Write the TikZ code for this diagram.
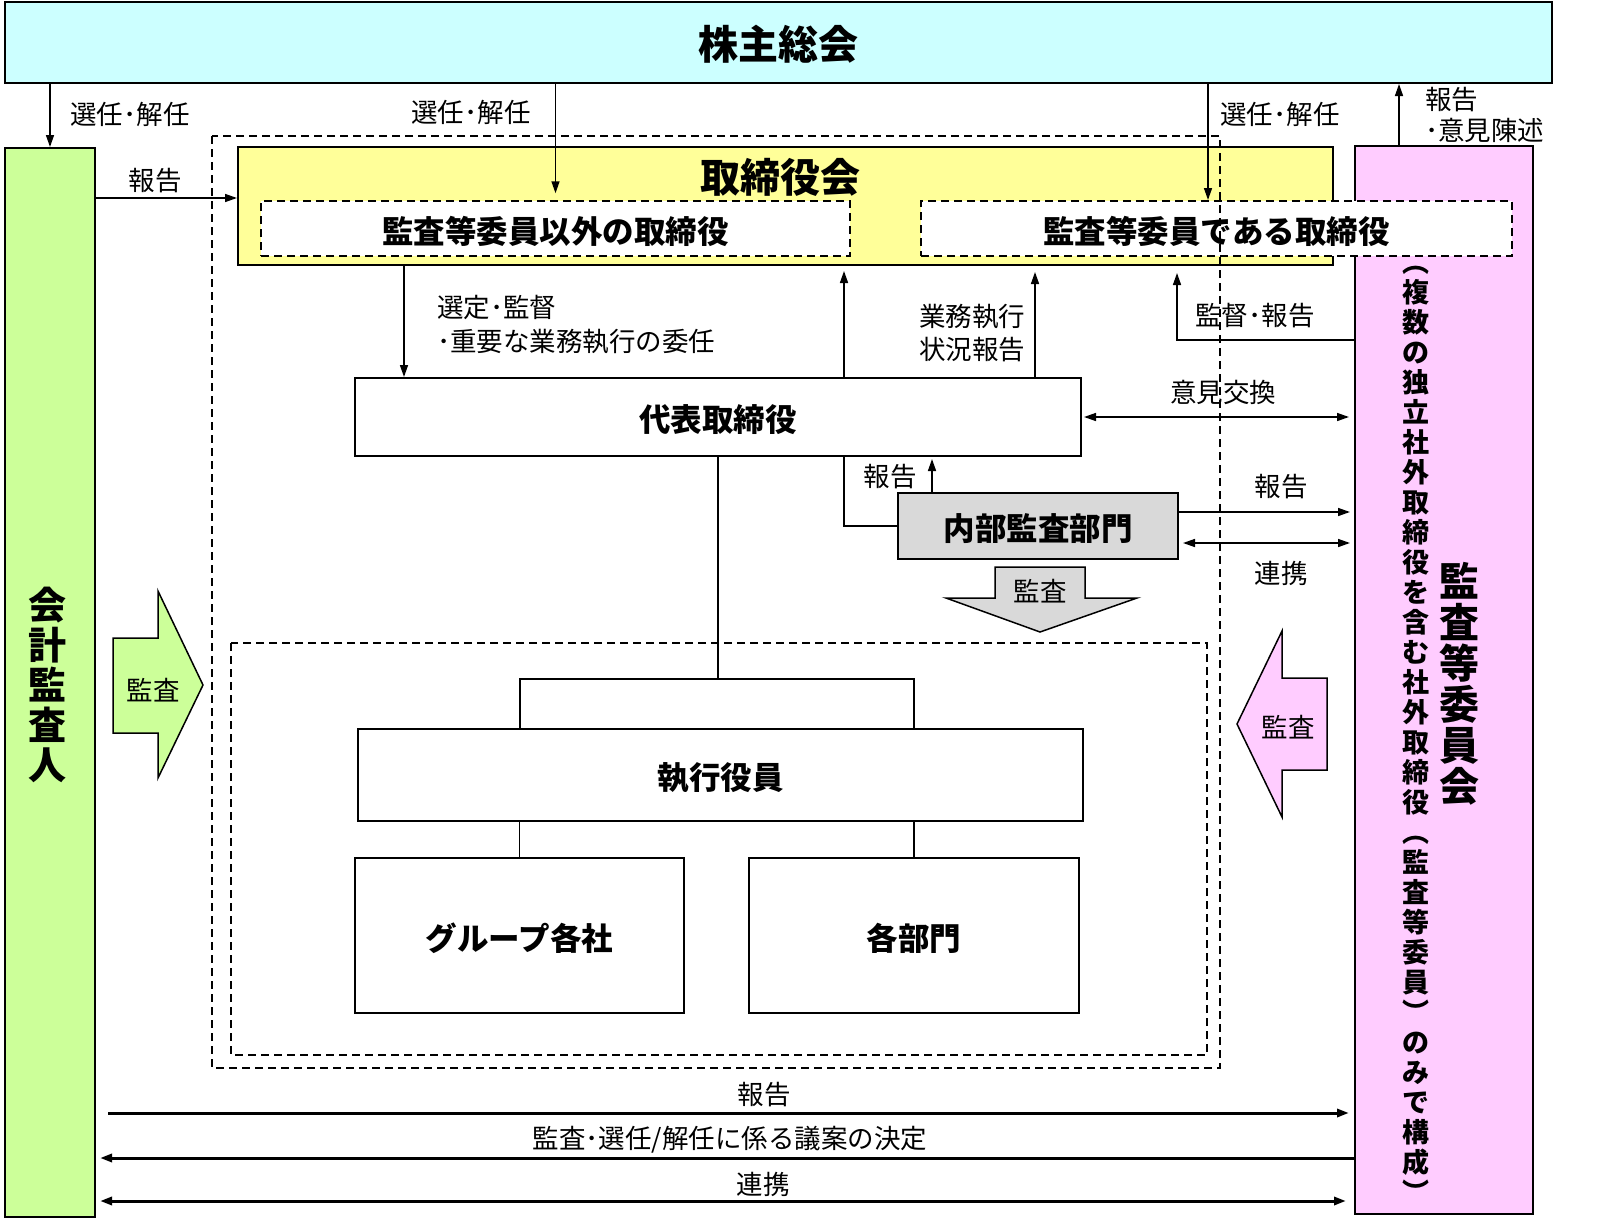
\documentclass[tikz,border=0pt]{standalone}
\usepackage{fontspec}
\setmainfont{Noto Sans CJK JP}
\usetikzlibrary{arrows.meta,positioning}

\definecolor{kabu}{HTML}{CCFFFF}
\definecolor{kaikei}{HTML}{CCFF99}
\definecolor{iinkai}{HTML}{FFCCFF}
\definecolor{torishimari}{HTML}{FFFF99}
\definecolor{naibu}{HTML}{D9D9D9}

\tikzset{
  box/.style={draw, line width=2pt, inner sep=0pt},
  dashbox/.style={draw, line width=1.5pt, dash pattern=on 8pt off 5pt},
  big/.style={font=\bfseries\fontsize{31.5}{33}\selectfont, text height=29pt, text depth=0pt},
  lbl/.style={inner sep=0pt, font=\fontsize{26.5}{32}\selectfont},
  arr/.style={line width=1.5pt, -{Triangle[length=12pt,width=8pt]}},
  dbl/.style={line width=1.5pt, {Triangle[length=12pt,width=8pt]}-{Triangle[length=12pt,width=8pt]}},
}

\begin{document}
\begin{tikzpicture}[x=1pt, y=-1pt]
  \useasboundingbox (0,0) rectangle (1600,1223);

  % top, side columns
  \node[box, fill=kabu, minimum width=1547pt, minimum height=81pt, text height=34pt, text depth=0pt,
        font=\bfseries\fontsize{40}{40}\selectfont] (sh) at (778.5,42.5) {株主総会};
  \node[box, fill=kaikei, minimum width=90pt, minimum height=1069pt] (ka) at (50,682.5) {};
  \node[box, fill=iinkai, minimum width=178pt, minimum height=1068pt] (ac) at (1444,680) {};
  \node[inner sep=0pt, align=center, font=\bfseries\fontsize{38}{40}\selectfont] (kat) at (47,685)
        {会\\計\\監\\査\\人};
  \node[inner sep=0pt, align=center, font=\bfseries\fontsize{40}{41}\selectfont] (act) at (1459,684)
        {監\\査\\等\\委\\員\\会};
  \node[inner sep=0pt, align=center, font=\bfseries\fontsize{27}{30}\selectfont] (acsub) at (1416,734)
        {︵\\複\\数\\の\\独\\立\\社\\外\\取\\締\\役\\を\\含\\む\\社\\外\\取\\締\\役\\︵\\監\\査\\等\\委\\員\\︶\\の\\み\\で\\構\\成\\︶};

  % board
  \node[box, fill=torishimari, minimum width=1095pt, minimum height=118pt] (bd) at (785.5,206) {};
  \node[inner sep=0pt, font=\bfseries\fontsize{40}{40}\selectfont] (bdt) at (780,177) {取締役会};
  \node[dashbox, fill=white, big, minimum width=589pt, minimum height=55pt] (nb) at (555.5,228.5) {監査等委員以外の取締役};
  \node[dashbox, fill=white, big, minimum width=591pt, minimum height=55pt] (ab) at (1216.5,228.5) {監査等委員である取締役};

  % execution side
  \node[box, fill=white, big, minimum width=726pt, minimum height=78pt] (rep) at (718,417) {代表取締役};
  \node[box, fill=naibu, big, minimum width=280pt, minimum height=66pt] (ia) at (1038,526) {内部監査部門};
  \node[box, fill=white, big, minimum width=725pt, minimum height=92pt] (ex) at (720.5,775) {執行役員};
  \node[box, fill=white, big, minimum width=329pt, minimum height=155pt] (gr) at (519.5,935.5) {グループ各社};
  \node[box, fill=white, big, minimum width=330pt, minimum height=155pt] (dp) at (914,935.5) {各部門};

  % block arrows
  \draw[line width=1.5pt, fill=naibu] (995,567) -- (1085,567) -- (1085,598) -- (1137,598)
        -- (1040,632) -- (946,598) -- (995,598) -- cycle;
  \draw[line width=1.5pt, fill=kaikei] (113,638) -- (158,638) -- (158,591) -- (203,685)
        -- (158,778) -- (158,733) -- (113,733) -- cycle;
  \draw[line width=1.5pt, fill=iinkai] (1327,678) -- (1282,678) -- (1282,631) -- (1237,724)
        -- (1282,817) -- (1282,770) -- (1327,770) -- cycle;
  \node[lbl] (kansa1) at (1040,591) {監査};
  \node[lbl] (kansa2) at (153,690) {監査};
  \node[lbl] (kansa3) at (1288,727) {監査};

  % connectors
  \draw[arr] (ka.north |- sh.south) -- (ka.north);
  \draw[arr, shorten >=7pt] (nb.north |- sh.south) -- (nb.north);
  \coordinate (selab) at (1208,200);
  \draw[arr] (selab |- sh.south) -- (selab);
  \draw[arr] (ac.north -| 1399,0) -- (sh.south -| 1399,0);
  \draw[arr] (ka.east |- 0,198) -- (bd.west |- 0,198);
  \draw[arr] (bd.south -| 404,0) -- (rep.north -| 404,0);
  \draw[arr, shorten >=5pt] (rep.north -| 844,0) -- (bd.south -| 844,0);
  \draw[arr, shorten >=6pt] (rep.north -| 1035,0) -- (bd.south -| 1035,0);
  \draw[arr, shorten >=7pt] (ac.west |- 0,340) -| (bd.south -| 1177,0);
  \draw[dbl, shorten <=2pt, shorten >=5pt] (rep.east) -- (rep.east -| ac.west);
  \draw[arr, shorten >=2pt] (ia.north -| 932,0) -- (rep.south -| 932,0);
  \draw[line width=1.5pt] (rep.south -| 844,0) |- (ia.west);
  \draw[arr, shorten >=4pt] (ia.east |- 0,512) -- (ac.west |- 0,512);
  \draw[dbl, shorten <=4pt, shorten >=4pt] (ia.east |- 0,543) -- (ac.west |- 0,543);

  \coordinate (fork) at (718,679);
  \draw[line width=1.5pt] (rep.south) -- (fork);
  \draw[line width=2pt] (gr.north |- ex.north) -- (gr.north |- fork) -- (dp.north |- fork) -- (dp.north |- ex.north);
  \draw[line width=1.5pt] (gr.north) -- (gr.north |- ex.south) (dp.north) -- (dp.north |- ex.south);

  \draw[arr, line width=3pt, shorten <=12pt, shorten >=5pt] (ka.east |- 0,1113) -- (ac.west |- 0,1113);
  \draw[arr, line width=3pt, shorten >=4pt] (ac.west |- 0,1158) -- (ka.east |- 0,1158);
  \draw[dbl, line width=3pt, shorten <=4pt, shorten >=8pt] (ka.east |- 0,1201) -- (ac.west |- 0,1201);

  % labels
  \node[lbl] (l1) at (130,114) {選任･解任};
  \node[lbl] (l2) at (471,112) {選任･解任};
  \node[lbl] (l3) at (1280,114) {選任･解任};
  \node[lbl, anchor=west, align=left, font=\fontsize{26.5}{31}\selectfont] (l4) at (1425,115) {報告\\･意見陳述};
  \node[lbl] (l5) at (155,181) {報告};
  \node[lbl, anchor=west, align=left, font=\fontsize{26.5}{34}\selectfont] (l6) at (437,325) {選定･監督\\･重要な業務執行の委任};
  \node[lbl, align=left, font=\fontsize{26.5}{33}\selectfont] (l7) at (972,333) {業務執行\\状況報告};
  \node[lbl] (l8) at (1255,316) {監督･報告};
  \node[lbl] (l9) at (1223,392) {意見交換};
  \node[lbl] (l10) at (890,477) {報告};
  \node[lbl] (l11) at (1281,487) {報告};
  \node[lbl] (l12) at (1281,573) {連携};
  \node[lbl] (l13) at (764,1095) {報告};
  \node[lbl] (l14) at (730,1140) {監査･選任/解任に係る議案の決定};
  \node[lbl] (l15) at (763,1184) {連携};

  % dashed frames
  \draw[dashbox] (212,136) rectangle (1220,1068);
  \draw[dashbox] (231,643) rectangle (1207,1055);
\end{tikzpicture}
\end{document}
